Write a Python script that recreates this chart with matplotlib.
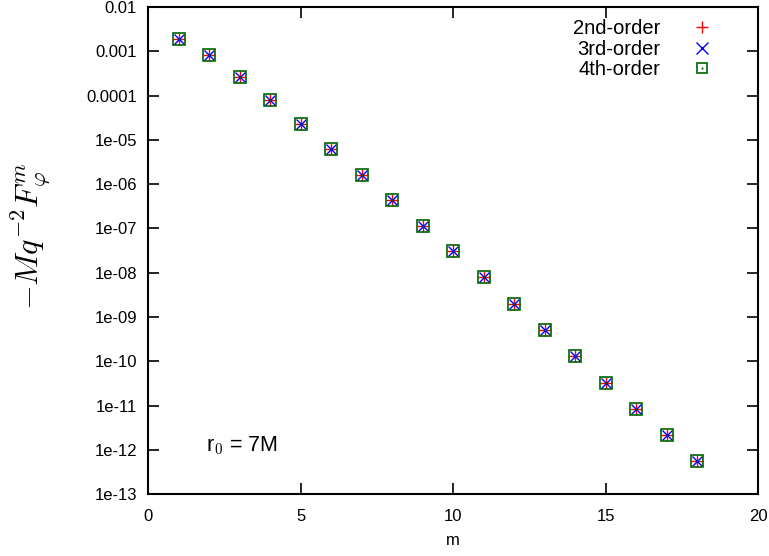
import matplotlib
matplotlib.use("Agg")
import matplotlib.pyplot as plt
from matplotlib.legend_handler import HandlerTuple
from matplotlib.lines import Line2D

plt.rcParams['font.family'] = ['Liberation Sans', 'DejaVu Sans']
plt.rcParams['mathtext.fontset'] = 'cm'

m = [1, 2, 3, 4, 5, 6, 7, 8, 9, 10, 11, 12, 13, 14, 15, 16, 17, 18]
F2 = [1.92e-3, 8.2e-4, 2.72e-4, 8.0e-5, 2.27e-5, 6.2e-6, 1.64e-6, 4.36e-7, 1.15e-7,
      3.1e-8, 7.9e-9, 2.0e-9, 5.2e-10, 1.32e-10, 3.3e-11, 8.5e-12, 2.16e-12, 5.6e-13]
F3 = [1.92e-3, 8.2e-4, 2.72e-4, 8.0e-5, 2.27e-5, 6.2e-6, 1.64e-6, 4.36e-7, 1.15e-7,
      3.1e-8, 7.9e-9, 2.0e-9, 5.2e-10, 1.32e-10, 3.3e-11, 8.5e-12, 2.16e-12, 5.6e-13]
F4 = [1.92e-3, 8.2e-4, 2.72e-4, 8.0e-5, 2.27e-5, 6.2e-6, 1.64e-6, 4.36e-7, 1.15e-7,
      3.1e-8, 7.9e-9, 2.0e-9, 5.2e-10, 1.32e-10, 3.3e-11, 8.5e-12, 2.16e-12, 5.6e-13]
labels = ["2nd-order", "3rd-order", "4th-order"]
yticks = [1e-13, 1e-12, 1e-11, 1e-10, 1e-9, 1e-8, 1e-7, 1e-6, 1e-5, 1e-4, 1e-3, 1e-2]
yticklabels = ["1e-13", "1e-12", "1e-11", "1e-10", "1e-09", "1e-08", "1e-07",
               "1e-06", "1e-05", "0.0001", "0.001", "0.01"]
xticks = [0, 5, 10, 15, 20]

red = '#ff0000'
blue = '#0000ff'
green = '#006400'

fig = plt.figure(figsize=(7.69, 5.56), dpi=100)
ax = fig.add_axes([0.1925, 0.1115, 0.7932, 0.8755])

ax.plot(m, F2, ls='none', marker='+', ms=8, mew=1.0, color=red)
ax.plot(m, F3, ls='none', marker='x', ms=7, mew=1.0, color=blue)
ax.plot(m, F4, ls='none', marker='s', ms=8, mew=1.2, mfc='none', mec=green)
ax.plot(m, F4, ls='none', marker='o', ms=1.5, mew=0, color=green)

ax.set_yscale('log')
ax.set_xlim(0, 20)
ax.set_ylim(1e-13, 1e-2)
ax.set_xticks(xticks)
ax.set_xticklabels([str(t) for t in xticks])
ax.set_yticks(yticks)
ax.set_yticklabels(yticklabels)
ax.yaxis.set_minor_locator(matplotlib.ticker.NullLocator())
ax.tick_params(which='both', direction='in', top=True, right=True, length=8, width=1.2,
               labelsize=12, pad=8)
ax.tick_params(axis='x', pad=11)
for s in ax.spines.values():
    s.set_linewidth(1.5)

ax.set_xlabel('m', fontsize=12)
ax.xaxis.set_label_coords(0.5, -0.080)
ax.set_ylabel(r'$-Mq^{-2}F_{\varphi}^{m}$', fontsize=23)
ax.yaxis.set_label_coords(-0.155, 0.53)

ax.text(1.9, 1.26e-12, r'r$_{\mathsf{0}}$ = 7M', fontsize=15.5, va='center', ha='left')

h2 = Line2D([], [], ls='none', marker='+', ms=9, mew=1.0, color=red)
h3 = Line2D([], [], ls='none', marker='x', ms=8, mew=1.0, color=blue)
h4a = Line2D([], [], ls='none', marker='s', ms=7, mew=1.2, mfc='none', mec=green)
h4b = Line2D([], [], ls='none', marker='o', ms=1.5, mew=0, color=green)
ax.legend([h2, h3, (h4a, h4b)], labels, loc='upper right', frameon=False,
          markerfirst=False, fontsize=14.5, handlelength=2.0, handletextpad=1.1,
          labelspacing=0.07, borderaxespad=0.0, borderpad=0.0,
          bbox_to_anchor=(0.9415, 0.975),
          handler_map={tuple: HandlerTuple(ndivide=1, pad=0)})

fig.savefig('out.png', dpi=100)
